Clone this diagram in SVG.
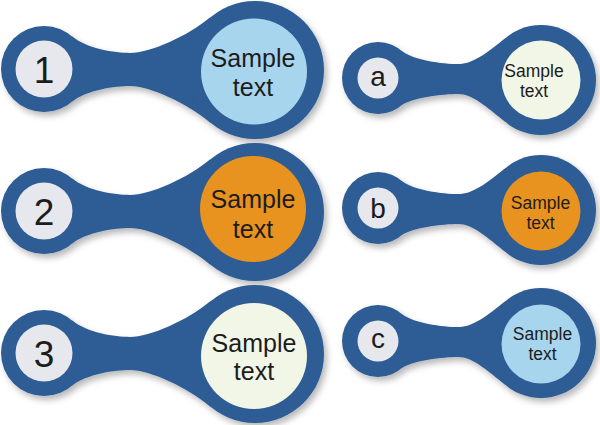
<svg xmlns="http://www.w3.org/2000/svg" xmlns:xlink="http://www.w3.org/1999/xlink" width="600" height="425" viewBox="0 0 600 425">
<style>
.ring{fill:#2e5b95}
.gray{fill:#e6e8ee}
.lblue{fill:#a8d5ee}
.orange{fill:#e8921f}
.cream{fill:#f1f6e7}
text{font-family:"Liberation Sans",Arial,sans-serif;fill:#1c1c1c;text-anchor:middle}
.numL{font-size:37px}
.numR{font-size:28px}
.txtL{font-size:25px}
.txtR{font-size:17.5px}
</style>
<defs>
<filter id="sh" x="-10%" y="-10%" width="125%" height="130%">
<feDropShadow dx="3" dy="4" stdDeviation="3" flood-color="#000" flood-opacity="0.28"/>
</filter>
<g id="bodyL">
<path d="M27.6,-32.9 C42.9,-20 71,-16 86,-16 C106,-16 143.6,-32.6 166.6,-51.9 L166.6,53.9 C143.6,34.6 106,17 86,17 C71,17 42.9,20.9 27.6,32.9 Z"/>
<circle r="43"/>
<circle cx="211" cy="1" r="69"/>
</g>
<g id="bodyR">
<path d="M23.1,-27.6 C34.6,-18 65,-14 80,-14 C95,-14 108.4,-25 127.6,-40.1 L127.6,44.1 C108.4,29 95,16 80,16 C65,16 34.6,19.4 23.1,27.6 Z"/>
<circle r="36"/>
<circle cx="163" cy="2" r="55"/>
</g>
</defs>
<g id="connectors"></g>

<g id="node-1" transform="translate(44,69)">
<use href="#bodyL" class="ring" filter="url(#sh)"/>
<circle class="gray" r="28.5"/>
<circle class="lblue" cx="210" cy="2.5" r="53"/>
<text class="numL" y="13.5">1</text>
<text class="txtL" x="209" y="-2">Sample</text>
<text class="txtL" x="209" y="27">text</text>
</g>

<g id="node-2" transform="translate(44,211)">
<use href="#bodyL" class="ring" filter="url(#sh)"/>
<circle class="gray" r="28.5"/>
<circle class="orange" cx="209" cy="-2" r="53"/>
<text class="numL" y="13.5">2</text>
<text class="txtL" x="209" y="-3">Sample</text>
<text class="txtL" x="209" y="27">text</text>
</g>

<g id="node-3" transform="translate(44,353)">
<use href="#bodyL" class="ring" filter="url(#sh)"/>
<circle class="gray" r="28.5"/>
<circle class="cream" cx="210" cy="3" r="53"/>
<text class="numL" y="13.5">3</text>
<text class="txtL" x="210" y="-1">Sample</text>
<text class="txtL" x="210" y="27">text</text>
</g>

<g id="node-a" transform="translate(378,78)">
<use href="#bodyR" class="ring" filter="url(#sh)"/>
<circle class="gray" r="20.5"/>
<circle class="cream" cx="163" cy="2" r="39.5"/>
<text class="numR" y="7.5">a</text>
<text class="txtR" x="156" y="-1">Sample</text>
<text class="txtR" x="156" y="19">text</text>
</g>

<g id="node-b" transform="translate(378,208)">
<use href="#bodyR" class="ring" filter="url(#sh)"/>
<circle class="gray" r="20.5"/>
<circle class="orange" cx="163" cy="3" r="39.5"/>
<text class="numR" y="10">b</text>
<text class="txtR" x="162.5" y="1">Sample</text>
<text class="txtR" x="162.5" y="21">text</text>
</g>

<g id="node-c" transform="translate(378,341)">
<use href="#bodyR" class="ring" filter="url(#sh)"/>
<circle class="gray" r="20.5"/>
<circle class="lblue" cx="163" cy="3" r="39.5"/>
<text class="numR" y="6.5">c</text>
<text class="txtR" x="164.5" y="-1">Sample</text>
<text class="txtR" x="164.5" y="19">text</text>
</g>
</svg>
